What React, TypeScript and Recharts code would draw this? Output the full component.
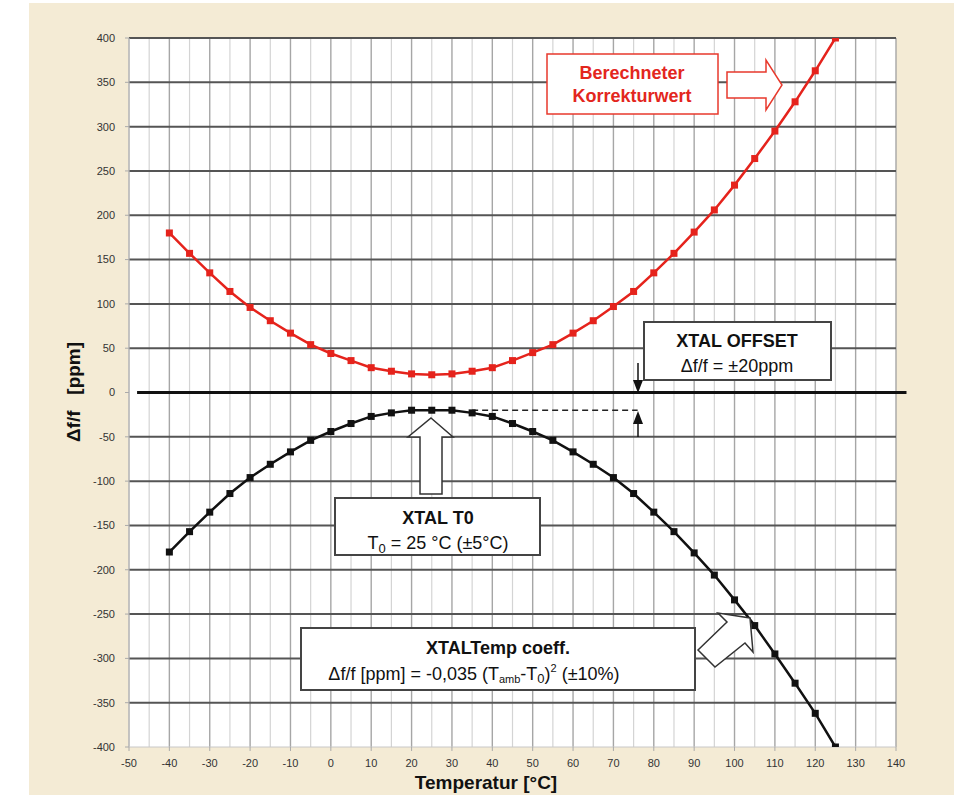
import React from "react";
import { CartesianGrid, Line, LineChart, ReferenceLine, XAxis, YAxis } from "recharts";

// Temperaturpunkte alle 5 °C
const temps = [
  -40, -35, -30, -25, -20, -15, -10, -5, 0, 5, 10, 15, 20, 25, 30, 35, 40, 45, 50, 55, 60,
  65, 70, 75, 80, 85, 90, 95, 100, 105, 110, 115, 120, 125,
];

// Berechneter Korrekturwert (rot)
const korrektur = [
  180, 157, 135, 114, 96, 81, 67, 54, 44, 36, 28, 24, 21, 20, 21, 24, 28, 36, 45, 54, 67,
  81, 97, 114, 135, 157, 181, 206, 234, 264, 295, 328, 363, 400,
];

// Quarz-Abweichung (schwarz)
const xtal = [
  -180, -157, -135, -114, -96, -81, -67, -54, -44, -35, -27, -23, -20, -20, -20, -23, -27, -35,
  -44, -54, -67, -81, -96, -114, -135, -157, -181, -206, -234, -263, -295, -328, -362, -400,
];

const xTicks = [-50, -40, -30, -20, -10, 0, 10, 20, 30, 40, 50, 60, 70, 80, 90, 100, 110, 120, 130, 140];
const xMinor = [-45, -35, -25, -15, -5, 5, 15, 25, 35, 45, 55, 65, 75, 85, 95, 105, 115, 125, 135];
const yTicks = [-400, -350, -300, -250, -200, -150, -100, -50, 0, 50, 100, 150, 200, 250, 300, 350, 400];
const yGrid = [-350, -300, -250, -200, -150, -100, -50, 50, 100, 150, 200, 250, 300, 350, 400];

const data = temps.map((t, i) => ({ t, red: korrektur[i], black: xtal[i] }));

const FONT = "'Liberation Sans', Arial, Helvetica, sans-serif";

const square = (color: string, size: number) => (props: any) => {
  const { cx, cy, index } = props;
  if (cx == null || cy == null) return <g key={index} />;
  return <rect key={index} x={cx - size / 2} y={cy - size / 2} width={size} height={size} fill={color} />;
};

const Annotations = () => (
  <svg
    width={954}
    height={795}
    style={{ position: "absolute", left: 0, top: 0, pointerEvents: "none", fontFamily: FONT }}
  >
    {/* Achsentitel */}
    <text
      x={73}
      y={392}
      transform="rotate(-90 73 392)"
      textAnchor="middle"
      dominantBaseline="central"
      fontSize={19}
      fontWeight="bold"
      fill="#111"
      xmlSpace="preserve"
    >
      {"Δf/f   [ppm]"}
    </text>
    <text x={486} y={789} textAnchor="middle" fontSize={19} fontWeight="bold" fill="#111">
      Temperatur [°C]
    </text>

    {/* Berechneter Korrekturwert */}
    <rect x={547} y={54} width={171} height={60} fill="#fff" stroke="#e8392c" strokeWidth={1.5} />
    <text x={632} y={79} textAnchor="middle" fontSize={18} fontWeight="bold" fill="#e3261d">
      Berechneter
    </text>
    <text x={632} y={102} textAnchor="middle" fontSize={18} fontWeight="bold" fill="#e3261d">
      Korrekturwert
    </text>
    <polygon
      points="727,72 766,72 766,60 782,85 766,110 766,98 727,98"
      fill="#fff"
      stroke="#e8392c"
      strokeWidth={1.5}
    />

    {/* XTAL OFFSET */}
    <rect x={644} y={322} width={187} height={58} fill="#fff" stroke="#444" strokeWidth={2} />
    <text x={737} y={347} textAnchor="middle" fontSize={18} fontWeight="bold" fill="#111">
      XTAL OFFSET
    </text>
    <text x={737} y={372} textAnchor="middle" fontSize={18} fill="#111">
      Δf/f = ±20ppm
    </text>
    <line x1={638} y1={363} x2={638} y2={385} stroke="#111" strokeWidth={1.5} />
    <polygon points="633,380 643,380 638,393" fill="#111" />
    <line x1={638} y1={418} x2={638} y2={437} stroke="#111" strokeWidth={1.5} />
    <polygon points="633,424 643,424 638,411" fill="#111" />

    {/* XTAL T0 */}
    <polygon
      points="431,418 453,437 442,437 442,494 420,494 420,437 408,437"
      fill="#fff"
      stroke="#333"
      strokeWidth={1.5}
    />
    <rect x={335} y={498} width={205} height={57} fill="#fff" stroke="#444" strokeWidth={2} />
    <text x={438} y={524} textAnchor="middle" fontSize={18} fontWeight="bold" fill="#111">
      XTAL T0
    </text>
    <text x={438} y={549} textAnchor="middle" fontSize={18} fill="#111">
      T<tspan fontSize={13} dy={4}>0</tspan>
      <tspan dy={-4}> = 25 °C (±5°C)</tspan>
    </text>

    {/* XTALTemp coeff. */}
    <rect x={301} y={628} width={394} height={62} fill="#fff" stroke="#444" strokeWidth={2} />
    <text x={498} y={654} textAnchor="middle" fontSize={18} fontWeight="bold" fill="#111">
      XTALTemp coeff.
    </text>
    <text x={474} y={680} textAnchor="middle" fontSize={18} fill="#111">
      Δf/f [ppm] = -0,035 (T<tspan fontSize={11} dy={3}>amb</tspan>
      <tspan dy={-3}>-T</tspan>
      <tspan fontSize={13} dy={3}>0</tspan>
      <tspan dy={-3}>)</tspan>
      <tspan fontSize={11} dy={-8}>2</tspan>
      <tspan dy={8}> (±10%)</tspan>
    </text>
    <polygon
      points="698,650 727,622 718,613 750,618 753,652 745,643 715,667"
      fill="#fff"
      stroke="#333"
      strokeWidth={1.5}
    />
  </svg>
);

export default function App() {
  return (
    <div style={{ position: "absolute", left: 0, top: 0, width: 954, height: 795, background: "#fff" }}>
      <div style={{ position: "absolute", left: 29, top: 3, right: 0, bottom: 0, background: "#f4ebd5" }} />
      <div style={{ position: "absolute", left: 129, top: 38, width: 767, height: 709, background: "#fff" }} />
      <div style={{ position: "absolute", left: 0, top: 0 }}>
        <LineChart width={954} height={795} data={data} margin={{ top: 38, right: 58, bottom: 18, left: 69 }}>
          <CartesianGrid horizontal={false} verticalValues={xMinor} stroke="#d4d4d4" strokeWidth={1.2} />
          <CartesianGrid horizontal={false} verticalValues={xTicks} stroke="#a6a6a6" strokeWidth={1.4} />
          <CartesianGrid vertical={false} horizontalValues={yGrid} stroke="#555" strokeWidth={2} />
          <XAxis
            type="number"
            dataKey="t"
            domain={[-50, 140]}
            ticks={xTicks}
            interval={0}
            height={30}
            tickSize={4}
            tickMargin={8}
            axisLine={{ stroke: "#c8c8c8" }}
            tickLine={{ stroke: "#aaa" }}
            tick={{ fontSize: 11, fill: "#333", fontFamily: FONT }}
            allowDataOverflow
          />
          <YAxis
            type="number"
            domain={[-400, 400]}
            ticks={yTicks}
            interval={0}
            width={60}
            tickSize={4}
            tickMargin={10}
            axisLine={{ stroke: "#c8c8c8" }}
            tickLine={{ stroke: "#aaa" }}
            tick={{ fontSize: 11, fill: "#333", fontFamily: FONT }}
            allowDataOverflow
          />
          <ReferenceLine
            segment={[{ x: -48, y: 0 }, { x: 142.6, y: 0 }]}
            stroke="#111"
            strokeWidth={3}
            ifOverflow="visible"
          />
          <ReferenceLine
            segment={[{ x: 35, y: -20 }, { x: 76, y: -20 }]}
            stroke="#222"
            strokeWidth={1.3}
            strokeDasharray="6 4"
          />
          <Line
            dataKey="red"
            stroke="#e5231c"
            strokeWidth={2.5}
            dot={square("#e5231c", 7)}
            isAnimationActive={false}
          />
          <Line
            dataKey="black"
            stroke="#111"
            strokeWidth={2.5}
            dot={square("#111", 7)}
            isAnimationActive={false}
          />
        </LineChart>
      </div>
      <Annotations />
    </div>
  );
}
